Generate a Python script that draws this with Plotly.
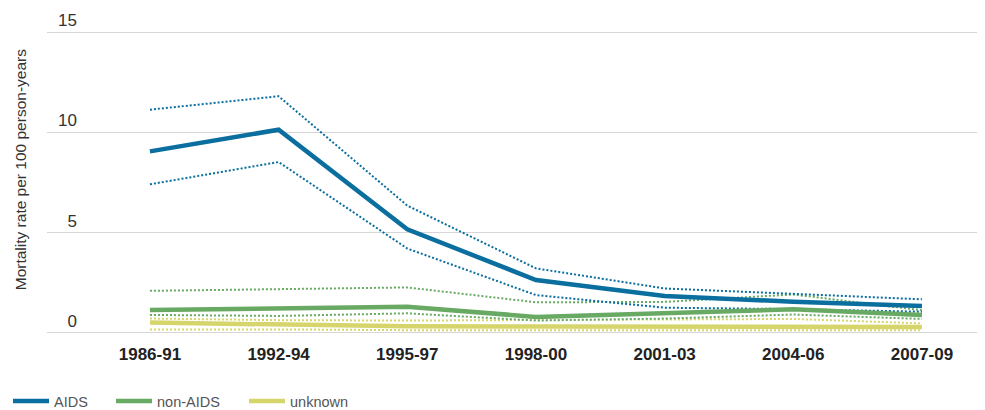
import plotly.graph_objects as go

periods = ["1986-91", "1992-94", "1995-97", "1998-00", "2001-03", "2004-06", "2007-09"]

aids = [9.05, 10.13, 5.17, 2.64, 1.84, 1.56, 1.34]
aids_upper = [11.13, 11.8, 6.35, 3.22, 2.22, 1.94, 1.68]
aids_lower = [7.41, 8.52, 4.21, 1.89, 1.26, 1.19, 1.06]

non_aids = [1.14, 1.23, 1.31, 0.80, 0.98, 1.18, 0.90]
non_aids_upper = [2.10, 2.17, 2.27, 1.53, 1.55, 1.92, 1.13]
non_aids_lower = [0.90, 0.85, 0.98, 0.62, 0.72, 0.92, 0.70]

unknown = [0.52, 0.40, 0.33, 0.32, 0.30, 0.30, 0.30]
unknown_upper = [0.72, 0.64, 0.62, 0.65, 0.66, 0.70, 0.48]
unknown_lower = [0.18, 0.18, 0.14, 0.14, 0.15, 0.16, 0.14]

y_ticks = [0, 5, 10, 15]

BLUE = "#0a6e9f"
GREEN = "#68a963"
YELLOW = "#d5d56c"
FONT = "Liberation Sans, Arial, sans-serif"

# the page body adds an 8px margin, so the figure is 8px smaller each way
W, H = 977, 402

fig = go.Figure()

series = [
    ("unknown", unknown, unknown_upper, unknown_lower, YELLOW, "legend3"),
    ("non-AIDS", non_aids, non_aids_upper, non_aids_lower, GREEN, "legend2"),
    ("AIDS", aids, aids_upper, aids_lower, BLUE, "legend"),
]

for name, main, up, lo, col, lg in series:
    for ci in (up, lo):
        fig.add_trace(go.Scatter(
            x=periods, y=ci, mode="lines", showlegend=False, hoverinfo="skip",
            line=dict(color=col, width=2, dash="2px,2px"),
        ))
for name, main, up, lo, col, lg in series:
    fig.add_trace(go.Scatter(
        x=periods, y=main, mode="lines", name=name, legend=lg,
        line=dict(color=col, width=4.5),
    ))

# dummy trace so the label axis is rendered
fig.add_trace(go.Scatter(x=[], y=[], yaxis="y2", showlegend=False, hoverinfo="skip"))

legend_common = dict(
    orientation="h", xref="container", yref="container",
    yanchor="middle", y=1 - 393 / H, xanchor="left", itemwidth=36,
    font=dict(family=FONT, size=14.5, color="#555555"),
    bgcolor="rgba(0,0,0,0)",
)

y_range = [-0.1, 15.1]
plot_h = 305.5
plot_top = 21.5
fig.update_layout(
    width=W, height=H,
    margin=dict(l=39, r=0, t=plot_top, b=H - plot_top - plot_h, pad=0, autoexpand=False),
    paper_bgcolor="white", plot_bgcolor="white",
    font=dict(family=FONT, color="#333333"),
    xaxis=dict(
        type="category", range=[-0.80, 6.49], showgrid=False, showline=False,
        zeroline=False, ticks="", ticklabelstandoff=7,
        tickfont=dict(family=FONT, size=17, color="#222222", weight="bold"),
    ),
    yaxis=dict(
        range=y_range, tickvals=y_ticks, showticklabels=False, showgrid=True,
        gridcolor="#d6d6d6", gridwidth=1, zeroline=False, showline=False, ticks="",
    ),
    yaxis2=dict(
        overlaying="y", anchor="free", position=30 / 938, side="left",
        range=y_range, tickvals=y_ticks, showgrid=False, zeroline=False,
        showline=False, ticks="", ticklabelposition="outside top",
        tickfont=dict(family=FONT, size=17, color="#333333"),
    ),
    legend=dict(x=-4 / W, **legend_common),
    legend2=dict(x=103 / W, **legend_common),
    legend3=dict(x=236 / W, **legend_common),
    annotations=[dict(
        text="Mortality rate per 100 person-years", textangle=-90,
        xref="paper", yref="paper", x=(12 - 39) / 938,
        y=(plot_top + plot_h - (170 - 8)) / plot_h,
        xanchor="center", yanchor="middle", showarrow=False,
        font=dict(family=FONT, size=15.5, color="#333333"),
    )],
)

fig.write_html("out.html")
